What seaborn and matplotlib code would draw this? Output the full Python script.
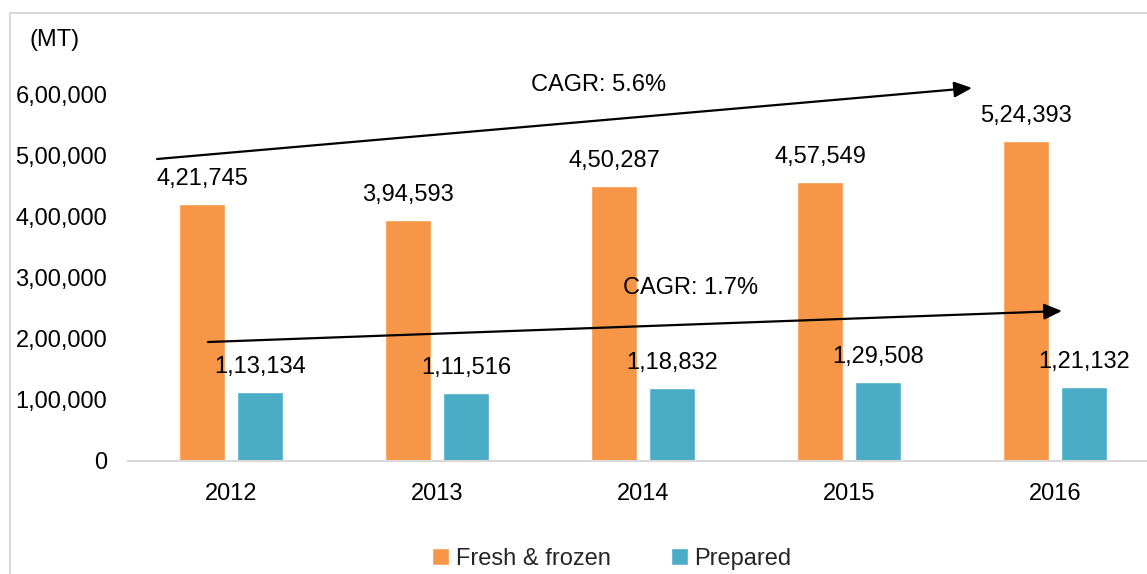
import matplotlib
matplotlib.use("Agg")
import matplotlib.pyplot as plt
from matplotlib.patches import Rectangle
import seaborn as sns
import pandas as pd

years = ["2012", "2013", "2014", "2015", "2016"]
fresh_frozen = [421745, 394593, 450287, 457549, 524393]
prepared = [113134, 111516, 118832, 129508, 121132]
series_names = ["Fresh & frozen", "Prepared"]
y_ticks = [0, 100000, 200000, 300000, 400000, 500000, 600000]
y_tick_labels = ["0", "1,00,000", "2,00,000", "3,00,000", "4,00,000", "5,00,000", "6,00,000"]
cagr_labels = ["CAGR: 5.6%", "CAGR: 1.7%"]

colors = ["#F79646", "#4BACC6"]


def indian_format(v):
    s = str(int(v))
    if len(s) <= 3:
        return s
    head, tail = s[:-3], s[-3:]
    parts = []
    while len(head) > 2:
        parts.insert(0, head[-2:])
        head = head[:-2]
    if head:
        parts.insert(0, head)
    return ",".join(parts) + "," + tail


df = pd.DataFrame({
    "year": years * 2,
    "value": fresh_frozen + prepared,
    "series": [series_names[0]] * len(years) + [series_names[1]] * len(years),
})

sns.set_theme(style="white")
plt.rcParams["font.family"] = ["Liberation Sans", "DejaVu Sans"]
FS = 17

fig = plt.figure(figsize=(11.47, 5.74), dpi=100)
ax = fig.add_axes([0.1116, 0.1969, 0.898, 0.6908])

sns.barplot(data=df, x="year", y="value", hue="series", palette=colors,
            width=0.564, gap=0.2, saturation=1, ax=ax, legend=True)

ax.set_ylim(0, 650000)
ax.set_xlim(-0.5, 4.5)
ax.set_yticks(y_ticks)
ax.set_yticklabels(y_tick_labels, fontsize=FS, color="#000000")
ax.tick_params(axis="y", length=0, pad=15)
ax.tick_params(axis="x", length=0, pad=16, labelsize=FS, labelcolor="#000000")
ax.set_xlabel("")
ax.set_ylabel("")
for side in ["top", "right", "left"]:
    ax.spines[side].set_visible(False)
ax.spines["bottom"].set_color("#d9d9d9")
ax.spines["bottom"].set_linewidth(1.5)

# value labels above each bar
for container in ax.containers:
    for bar in container:
        h = bar.get_height()
        ax.annotate(indian_format(h), (bar.get_x() + bar.get_width() / 2, h),
                    xytext=(0, 18), textcoords="offset points",
                    ha="center", va="center", fontsize=FS, color="#000000")

# growth arrows
arrow_style = dict(arrowstyle="-|>,head_length=0.9,head_width=0.4", color="black", lw=1.6,
                   shrinkA=0, shrinkB=0)
ax.annotate("", xy=(3.597, 611500), xytext=(-0.359, 495000), arrowprops=arrow_style,
            annotation_clip=False)
ax.annotate("", xy=(4.034, 245900), xytext=(-0.112, 195000), arrowprops=arrow_style,
            annotation_clip=False)
ax.text(1.782, 616400, cagr_labels[0], ha="center", va="center", fontsize=FS, color="#000000")
ax.text(2.233, 283600, cagr_labels[1], ha="center", va="center", fontsize=FS, color="#000000")

# unit label
fig.text(30 / 1147, 1 - 40 / 574, "(MT)", ha="left", va="center", fontsize=FS, color="#000000")

# legend at the bottom
handles, labels = ax.get_legend_handles_labels()
ax.legend(handles, labels, loc="center", bbox_to_anchor=(612 / 1147, 1 - 559 / 574),
          bbox_transform=fig.transFigure, ncol=2, frameon=False, fontsize=FS,
          handlelength=0.7, handleheight=0.7, handletextpad=0.3, columnspacing=2.55)

# outer chart frame
fig.patches.append(Rectangle((10 / 1147, -0.1), 1.2, 1 - 13 / 574 + 0.1, transform=fig.transFigure,
                             fill=False, edgecolor="#d9d9d9", linewidth=1.5))

fig.savefig("out.png", dpi=100)
